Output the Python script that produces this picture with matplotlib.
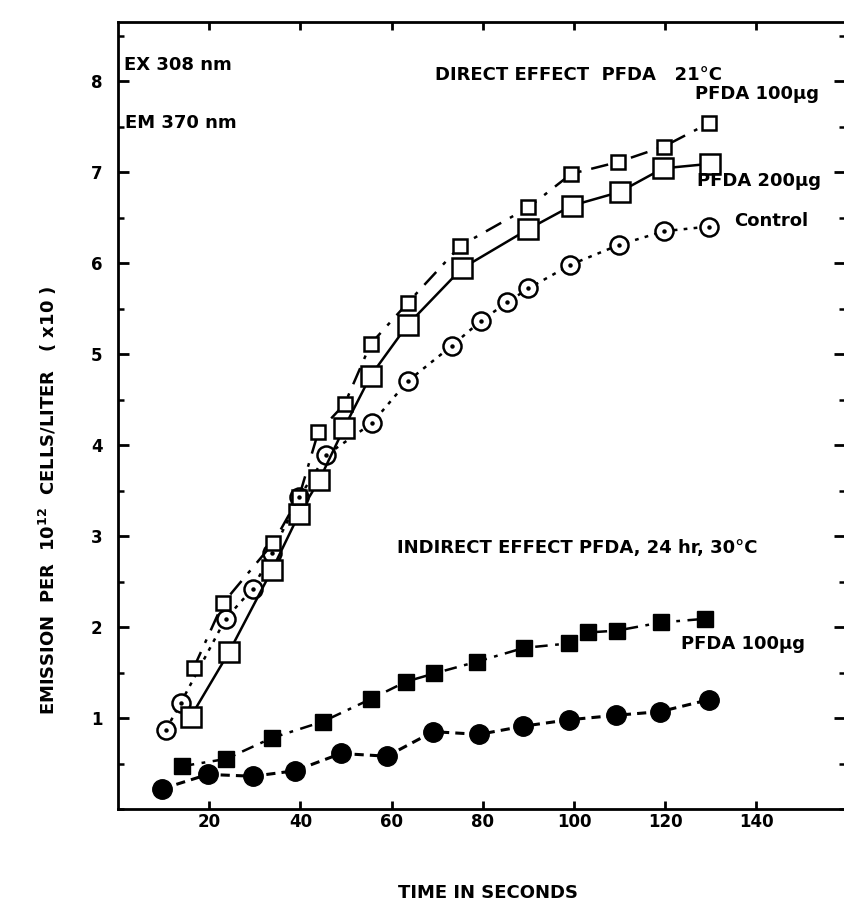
import matplotlib
matplotlib.use("Agg")
import matplotlib.pyplot as plt
from matplotlib.ticker import MultipleLocator

plt.rcParams['font.family'] = ['DejaVu Sans']
plt.rcParams['font.weight'] = 'bold'
plt.rcParams['mathtext.fontset'] = 'dejavusans'

# ---- data (time in seconds, emission) ----
ctrl_x = [10.5, 13.8, 23.6, 29.5, 33.7, 39.8, 45.7, 55.7, 63.5, 73.2, 79.5, 85.4, 90.0, 99.2, 109.9, 119.8, 129.5]
ctrl_y = [0.87, 1.17, 2.09, 2.42, 2.81, 3.43, 3.89, 4.24, 4.70, 5.09, 5.36, 5.57, 5.72, 5.98, 6.20, 6.35, 6.40]

p200_x = [15.9, 24.3, 33.8, 39.7, 44.1, 49.6, 55.4, 63.5, 75.4, 89.9, 99.5, 110.0, 119.5, 129.8]
p200_y = [1.01, 1.72, 2.63, 3.24, 3.61, 4.19, 4.76, 5.32, 5.94, 6.37, 6.63, 6.78, 7.04, 7.09]

p100_x = [16.6, 23.0, 34.0, 39.7, 43.9, 49.7, 55.4, 63.5, 75.1, 90.0, 99.4, 109.7, 119.7, 129.7]
p100_y = [1.55, 2.26, 2.92, 3.43, 4.14, 4.45, 5.11, 5.56, 6.19, 6.61, 6.98, 7.11, 7.28, 7.54]

ind_sq_x = [14.0, 23.7, 33.7, 44.9, 55.5, 63.2, 69.4, 78.8, 89.0, 98.9, 103.1, 109.4, 119.1, 128.7]
ind_sq_y = [0.47, 0.55, 0.78, 0.96, 1.21, 1.40, 1.49, 1.62, 1.77, 1.82, 1.94, 1.96, 2.05, 2.09]

ind_ci_x = [9.6, 19.7, 29.6, 38.8, 48.9, 59.0, 69.1, 79.2, 88.9, 98.8, 109.3, 118.9, 129.5]
ind_ci_y = [0.22, 0.38, 0.36, 0.42, 0.61, 0.58, 0.85, 0.82, 0.91, 0.98, 1.03, 1.07, 1.20]

x_ticks = [20, 40, 60, 80, 100, 120, 140]
y_ticks = [1, 2, 3, 4, 5, 6, 7, 8]

W, H = 845, 906
fig = plt.figure(figsize=(W / 100, H / 100), dpi=100)
left_px, right_px, top_px, bottom_px = 118, 845, 22, 809
ax = fig.add_axes([left_px / W, 1 - bottom_px / H, (right_px - left_px) / W, (bottom_px - top_px) / H])

ax.set_xlim(0, (right_px - left_px) / 4.56)
ax.set_ylim(0, (bottom_px - top_px) / 91.0)

lw = 1.8
# Control (open circles, dotted)
ax.plot(ctrl_x, ctrl_y, color='black', lw=lw, linestyle=(0, (1.5, 2.5)),
        marker='o', ms=13, mfc='white', mec='black', mew=1.8, zorder=3)
ax.plot(ctrl_x, ctrl_y, linestyle='none', marker='o', ms=2.2, color='black', zorder=4)
# PFDA 200 (large open squares, solid)
ax.plot(p200_x, p200_y, color='black', lw=lw, linestyle='-',
        marker='s', ms=15, mfc='white', mec='black', mew=1.8, zorder=3)
# PFDA 100 (small open squares, dash-dot)
ax.plot(p100_x, p100_y, color='black', lw=lw, linestyle=(0, (7, 4, 1.5, 4)),
        marker='s', ms=9.5, mfc='white', mec='black', mew=1.8, zorder=3)
# Indirect: filled squares (dash-dot)
ax.plot(ind_sq_x, ind_sq_y, color='black', lw=lw, linestyle=(0, (5, 3, 1.5, 3)),
        marker='s', ms=11, mfc='black', mec='black', zorder=3)
# Indirect: filled circles (dashed)
ax.plot(ind_ci_x, ind_ci_y, color='black', lw=2.2, linestyle=(0, (3, 2)),
        marker='o', ms=14, mfc='black', mec='black', zorder=3)

# axes styling
for s in ax.spines.values():
    s.set_linewidth(2.0)
ax.xaxis.set_major_locator(plt.FixedLocator(x_ticks))
ax.yaxis.set_major_locator(plt.FixedLocator(y_ticks))
ax.yaxis.set_minor_locator(MultipleLocator(0.5))
ax.set_xticklabels([str(v) for v in x_ticks])
ax.set_yticklabels([str(v) for v in y_ticks])
ax.tick_params(axis='both', which='major', direction='in', width=2.0,
               top=True, right=True, labelsize=12)
ax.tick_params(axis='x', which='major', length=6, pad=3)
ax.tick_params(axis='y', which='major', length=8, pad=11)
ax.tick_params(axis='y', which='minor', direction='in', length=4, width=1.8, right=True)
for lab in ax.get_xticklabels() + ax.get_yticklabels():
    lab.set_fontweight('bold')

def ftext(px, py, s, **kw):
    kw.setdefault('fontsize', 13)
    kw.setdefault('fontweight', 'bold')
    kw.setdefault('va', 'center')
    fig.text(px / W, 1 - py / H, s, **kw)

ftext(124, 65, "EX 308 nm", ha='left')
ftext(125, 123, "EM 370 nm", ha='left')
ftext(579, 75, "DIRECT EFFECT  PFDA   21°C", ha='center')
ftext(695, 94, "PFDA 100µg", ha='left')
ftext(697, 181, "PFDA 200µg", ha='left')
ftext(734, 221, "Control", ha='left')
ftext(397, 548, "INDIRECT EFFECT PFDA, 24 hr, 30°C", ha='left')
ftext(681, 644, "PFDA 100µg", ha='left')
ftext(488, 893, "TIME IN SECONDS", ha='center')
ftext(48, 500, r"EMISSION  PER  10$^{\mathbf{12}}$  CELLS/LITER   ( x10 )",
      ha='center', rotation=90)

fig.savefig("out.png", dpi=100)
